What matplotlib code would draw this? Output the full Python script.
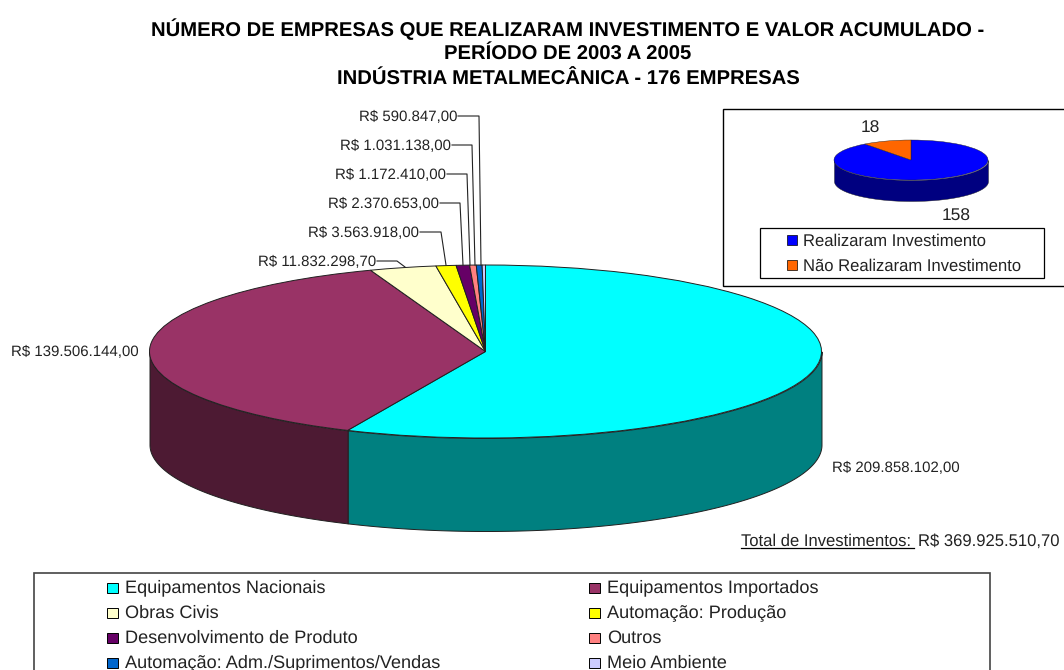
import numpy as np
import matplotlib
matplotlib.use("Agg")
import matplotlib.pyplot as plt
from matplotlib.patches import Rectangle

plt.rcParams['font.family'] = ['Liberation Sans', 'DejaVu Sans']
plt.rcParams['text.hinting'] = 'none'

W, H = 1064, 670

# ---- data ----
categories = ["Equipamentos Nacionais", "Equipamentos Importados", "Obras Civis",
              "Automação: Produção", "Desenvolvimento de Produto", "Outros",
              "Automação: Adm./Suprimentos/Vendas", "Meio Ambiente"]
investments = [209858102.00, 139506144.00, 11832298.70, 3563918.00,
               2370653.00, 1172410.00, 1031138.00, 590847.00]
value_labels = ["R$ 209.858.102,00", "R$ 139.506.144,00", "R$ 11.832.298,70",
                "R$ 3.563.918,00", "R$ 2.370.653,00", "R$ 1.172.410,00",
                "R$ 1.031.138,00", "R$ 590.847,00"]
top_colors = ["#00FFFF", "#993366", "#FFFFCC", "#FFFF00", "#660066", "#FF8080",
              "#0066CC", "#CCCCFF"]
side_colors = ["#008080", "#4D1A33"]

inset_categories = ["Realizaram Investimento", "Não Realizaram Investimento"]
inset_values = [158, 18]
inset_colors = ["#0000FF", "#FF6600"]
inset_side = "#000080"

title_lines = ["NÚMERO DE EMPRESAS QUE REALIZARAM INVESTIMENTO E VALOR ACUMULADO -",
               "PERÍODO DE 2003 A 2005",
               "INDÚSTRIA METALMECÂNICA - 176 EMPRESAS"]
total_label = "Total de Investimentos:"
total_value = "R$ 369.925.510,70"

fig = plt.figure(figsize=(W / 100, H / 100), dpi=100, facecolor="white")


def pie3d(cx, cy, rx, ry, depth, values, tops, sides, edge_lw, zorder=1):
    """Squashed pie on its own full-figure axes whose unit circle is the ellipse."""
    ax = fig.add_axes([0, 0, 1, 1], zorder=zorder)
    ax.patch.set_alpha(0)
    d = depth / ry
    ax.pie(values, colors=tops, startangle=90, counterclock=False,
           wedgeprops=dict(edgecolor="#202020", linewidth=edge_lw, zorder=3))
    ax.set_aspect("auto")
    ax.set_xlim((0 - cx) / rx, (W - cx) / rx)
    ax.set_ylim((cy - H) / ry, cy / ry)
    ax.axis("off")
    # side wall: the part of the rim on the front half of the ellipse
    ends = np.cumsum(values) / np.sum(values) * 360.0
    starts = np.r_[0, ends[:-1]]
    for s, e, c in zip(starts, ends, sides):
        lo, hi = max(s, 90), min(e, 270)
        if hi <= lo:
            continue
        t = np.radians(np.linspace(lo, hi, 200))
        x, y = np.sin(t), np.cos(t)
        ax.fill_between(x, y, y - d, color=c, ec="#202020", lw=edge_lw, zorder=2)
    return ax


pie3d(485.5, 351.5, 336, 86.5, 93, investments, top_colors,
      side_colors + ["#808066"] * 6, 0.7, zorder=1)

# overlay for the inset box, in pixel coordinates
ov = fig.add_axes([0, 0, 1, 1], zorder=2)
ov.patch.set_alpha(0)
ov.set_xlim(0, W)
ov.set_ylim(H, 0)
ov.axis("off")
ov.add_patch(Rectangle((723, 109), 345, 177, fc="white", ec="black", lw=1, clip_on=False))

pie3d(911, 160, 77, 20, 21, inset_values, inset_colors, [inset_side, inset_side], 0.3, zorder=3)

ov2 = fig.add_axes([0, 0, 1, 1], zorder=4)
ov2.patch.set_alpha(0)
ov2.set_xlim(0, W)
ov2.set_ylim(H, 0)
ov2.axis("off")

TXT = "#222222"
for line, y in zip(title_lines, [29, 54, 80]):
    ov2.text(568, y, line, ha="center", va="center", fontsize=14.6, fontweight="bold", color="black")

# leader labels
label_anchor = [None, None, (377, 261), (420, 232), (440, 203), (447, 174), (452, 145), (458, 116)]
elbow = [None, None, (397, 261), (441, 232), (460, 203), (467, 174), (472, 145), (479, 116)]
pie_end = [None, None, (405, 267), (446, 265), (463, 265), (470, 265), (475, 265), (481, 265)]
for lab, a, b, c in zip(value_labels, label_anchor, elbow, pie_end):
    if a is None:
        continue
    ov2.text(a[0] - 1, a[1] + 1.5, lab, ha="right", va="center", fontsize=10.85, color=TXT)
    ov2.plot([a[0], b[0], c[0]], [a[1], b[1], c[1]], color="#222222", lw=0.8)
ov2.text(139, 352.5, value_labels[1], ha="right", va="center", fontsize=10.85, color=TXT)
ov2.text(832, 468.5, value_labels[0], ha="left", va="center", fontsize=10.85, color=TXT)

# total
ov2.text(741, 541, total_label, ha="left", va="center", fontsize=12, color=TXT)
ov2.plot([741, 914], [548, 548], color="black", lw=0.9)
ov2.text(1060, 541, total_value, ha="right", va="center", fontsize=12, color=TXT)

# inset labels + legend
ov2.text(870, 128, str(inset_values[1]), ha="center", va="center", fontsize=12.5, color=TXT)
ov2.text(956, 216, str(inset_values[0]), ha="center", va="center", fontsize=12.5, color=TXT)
ov2.add_patch(Rectangle((760, 228), 284, 50, fc="white", ec="black", lw=0.9))
for name, col, y in zip(inset_categories, inset_colors, [240, 265]):
    ov2.add_patch(Rectangle((787, y - 5), 10, 10, fc=col, ec="black", lw=0.5))
    ov2.text(803, y + 1, name, ha="left", va="center", fontsize=11.95, color=TXT)

# main legend
ov2.add_patch(Rectangle((34, 573), 956, 110, fc="white", ec="#444444", lw=1.2, clip_on=True, zorder=0))
xs = [107, 589]
ys = [588, 613, 638, 663]
for i, (name, col) in enumerate(zip(categories, top_colors)):
    x, y = xs[i % 2], ys[i // 2]
    ov2.add_patch(Rectangle((x, y - 5), 11, 10, fc=col, ec="black", lw=0.7))
    ov2.text(x + 18, y, name, ha="left", va="center", fontsize=13.1, color=TXT)

fig.savefig("out.png", dpi=100, facecolor="white")
